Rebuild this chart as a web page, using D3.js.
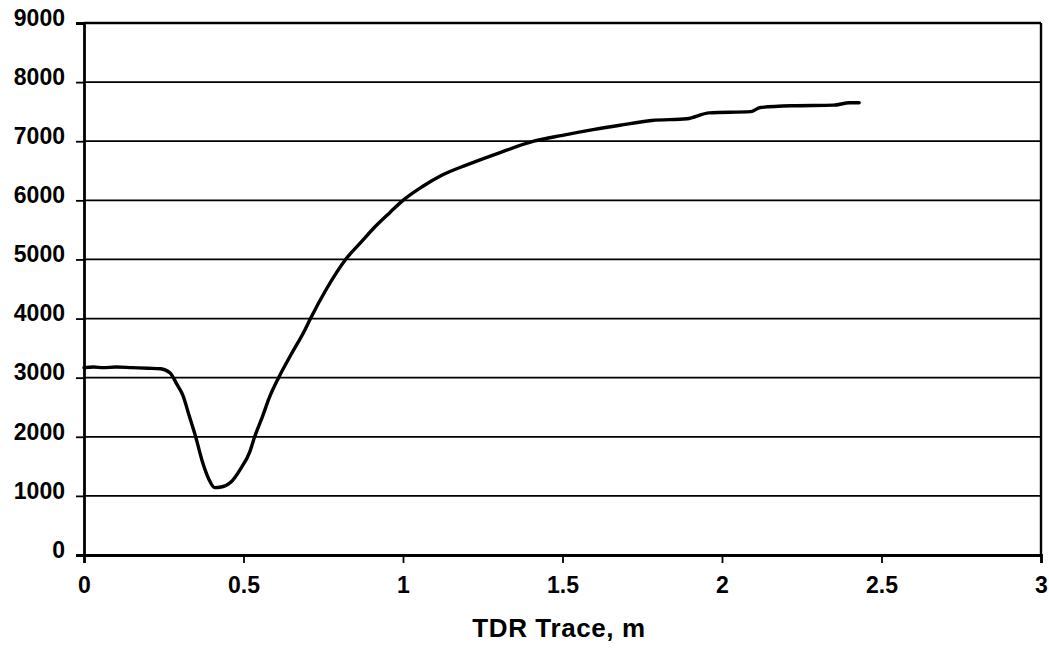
<!DOCTYPE html>
<html>
<head>
<meta charset="utf-8">
<script src="https://cdn.jsdelivr.net/npm/d3@7"></script>
<style>
  html, body { margin: 0; padding: 0; background: #fff; }
  svg { display: block; }
  text { font-family: "Liberation Sans", Arial, sans-serif; font-weight: bold; fill: #000; }
</style>
</head>
<body>
<svg id="chart" width="1049" height="651"></svg>
<script>
// ---- Data ----
const traceX = [0, 0.03, 0.06, 0.1, 0.15, 0.2, 0.24, 0.27, 0.29, 0.31, 0.33, 0.35, 0.37, 0.39, 0.41, 0.43, 0.46, 0.49, 0.52, 0.535, 0.56, 0.58, 0.61, 0.65, 0.69, 0.71, 0.76, 0.82, 0.87, 0.91, 0.96, 1.00, 1.06, 1.12, 1.2, 1.3, 1.41, 1.5, 1.6, 1.68, 1.78, 1.89, 1.96, 2.09, 2.12, 2.22, 2.35, 2.40, 2.43];
const traceY = [3170, 3180, 3170, 3180, 3170, 3160, 3150, 3080, 2900, 2700, 2350, 2000, 1600, 1300, 1140, 1150, 1230, 1450, 1750, 2000, 2350, 2650, 3000, 3400, 3780, 4000, 4500, 5000, 5300, 5540, 5800, 6000, 6230, 6420, 6600, 6800, 7000, 7100, 7200, 7270, 7350, 7380, 7480, 7500, 7570, 7600, 7610, 7650, 7650];
const xTicks = [0, 0.5, 1, 1.5, 2, 2.5, 3];
const xTickLabels = ["0", "0.5", "1", "1.5", "2", "2.5", "3"];
const yTicks = [0, 1000, 2000, 3000, 4000, 5000, 6000, 7000, 8000, 9000];
const yTickLabels = ["0", "1000", "2000", "3000", "4000", "5000", "6000", "7000", "8000", "9000"];
const xTitle = "TDR Trace, m";

// ---- Layout ----
const svg = d3.select("#chart");
const L = 84, R = 1041, T = 23, B = 555;

const x = d3.scaleLinear().domain([0, 3]).range([L, R]);
const y = d3.scaleLinear().domain([0, 9000]).range([B, T]);

// gridlines
svg.append("g").selectAll("line").data(yTicks.filter(d => d > 0)).join("line")
  .attr("x1", L).attr("x2", R)
  .attr("y1", d => y(d)).attr("y2", d => y(d))
  .attr("stroke", "#000").attr("stroke-width", d => d === 9000 ? 2.4 : 1.8);

// right border
svg.append("line").attr("x1", R).attr("x2", R).attr("y1", T).attr("y2", B)
  .attr("stroke", "#000").attr("stroke-width", 2.4);

// y axis
const yAxis = d3.axisLeft(y).tickValues(yTicks).tickSize(8).tickPadding(11)
  .tickFormat((d, i) => yTickLabels[i]);
const gy = svg.append("g").attr("transform", `translate(${L},0)`).call(yAxis);
gy.select(".domain").attr("stroke", "#000").attr("stroke-width", 2.8);
gy.selectAll(".tick line").attr("stroke", "#000").attr("stroke-width", 1.8);
gy.selectAll(".tick text").attr("font-size", 23).attr("dy", "0.1em")
  .style("font-family", '"Liberation Sans", Arial, sans-serif').style("font-weight", "bold");

// x axis
const xAxis = d3.axisBottom(x).tickValues(xTicks).tickSize(8).tickPadding(14)
  .tickFormat((d, i) => xTickLabels[i]);
const gx = svg.append("g").attr("transform", `translate(0,${B})`).call(xAxis);
gx.select(".domain").attr("stroke", "#000").attr("stroke-width", 2.8);
gx.selectAll(".tick line").attr("stroke", "#000").attr("stroke-width", 1.8);
gx.selectAll(".tick text").attr("font-size", 23)
  .style("font-family", '"Liberation Sans", Arial, sans-serif').style("font-weight", "bold");

// trace line
const pts = traceX.map((v, i) => [v, traceY[i]]);
svg.append("path").datum(pts)
  .attr("fill", "none").attr("stroke", "#000").attr("stroke-width", 3.4)
  .attr("stroke-linejoin", "round").attr("stroke-linecap", "round")
  .attr("d", d3.line().x(d => x(d[0])).y(d => y(d[1])).curve(d3.curveMonotoneX));

// axis title
svg.append("text").attr("x", 559).attr("y", 637).attr("text-anchor", "middle")
  .attr("font-size", 26).attr("letter-spacing", "0.6px").text(xTitle);
</script>
</body>
</html>
